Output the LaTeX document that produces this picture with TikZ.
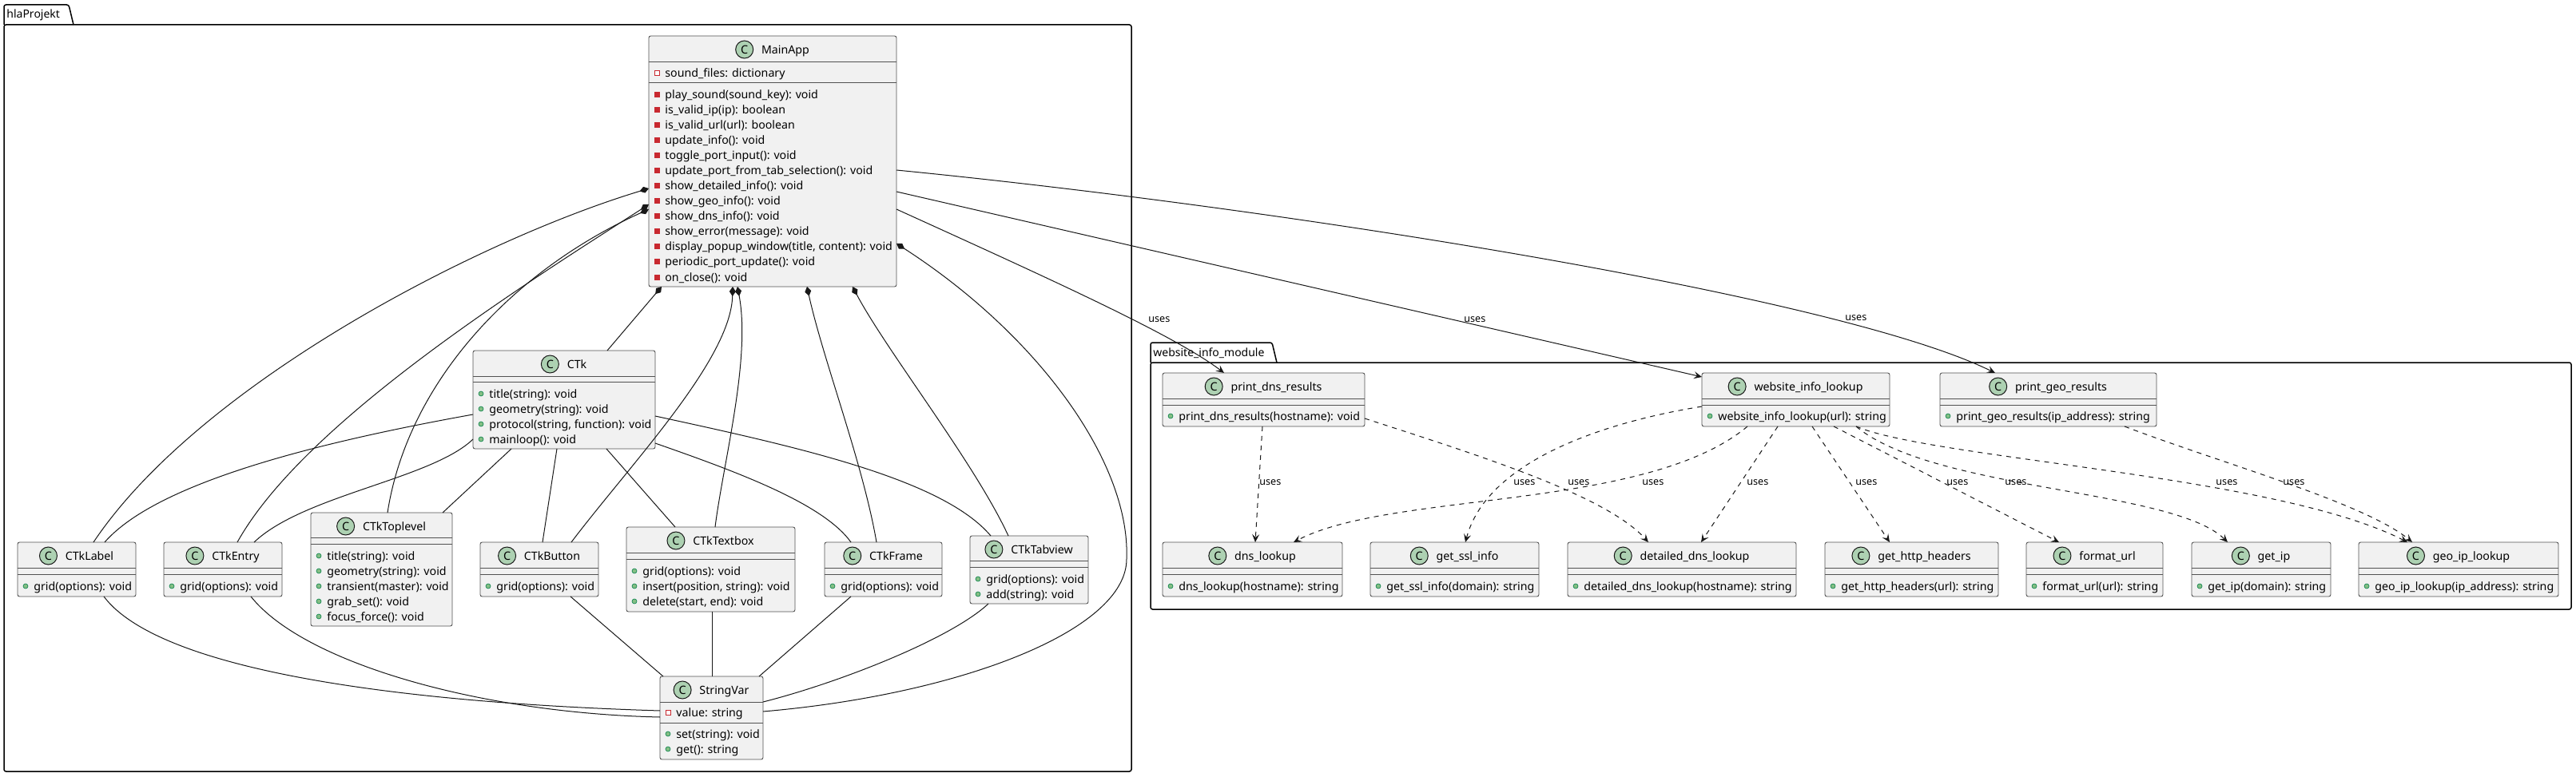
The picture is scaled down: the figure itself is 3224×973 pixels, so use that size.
\documentclass[tikz,border=0pt]{standalone}
\usepackage{fontspec}
\setmainfont{Noto Sans}
\usetikzlibrary{arrows.meta,calc}
\definecolor{boxfill}{HTML}{F1F1F1}
\definecolor{edge}{HTML}{181818}
\definecolor{cfill}{HTML}{ADD1B2}
\definecolor{pubfill}{HTML}{84BE84}
\definecolor{pubdraw}{HTML}{038048}
\definecolor{privred}{HTML}{C82930}
\tikzset{
 classbox/.style={draw=edge!75, line width=0.45pt, fill=boxfill, rounded corners=1.25pt, anchor=north west, inner sep=0pt, outer sep=0pt},
 titletext/.style={inner sep=0pt, font=\fontsize{7.1}{8.5}\selectfont, text height=0.72em, text depth=0.2em},
 cbadge/.style={circle, draw=edge, line width=0.5pt, fill=cfill, minimum size=11pt, inner sep=0pt, font=\fontsize{7.2}{8}\selectfont\bfseries},
 membertext/.style={anchor=west, inner sep=0pt, font=\fontsize{7.1}{8.5}\selectfont, text height=0.72em, text depth=0.2em},
 pubm/.style={circle, fill=pubfill, draw=pubdraw, line width=0.3pt, minimum size=3pt, inner sep=0pt},
 privm/.style={rectangle, fill=privred, draw=privred, line width=0.3pt, minimum size=3pt, inner sep=0pt},
 privf/.style={rectangle, fill=white, draw=privred, line width=0.4pt, minimum size=3pt, inner sep=0pt},
 divline/.style={draw=edge!75, line width=0.45pt},
 pkg/.style={draw=black, line width=0.75pt, rounded corners=1.25pt},
 pkgtext/.style={anchor=west, inner sep=0pt, font=\fontsize{7}{8}\selectfont\bfseries},
 compo/.style={draw=edge, line width=0.5pt, {Diamond[length=6pt,width=4pt]}-},
 assoc/.style={draw=edge, line width=0.5pt},
 uses/.style={draw=edge, line width=0.5pt, -{Stealth[length=5pt,width=4.5pt,inset=2pt]}},
 dep/.style={uses, dash pattern=on 3pt off 3pt},
 lbl/.style={anchor=west, inner sep=0pt, font=\fontsize{6.3}{7}\selectfont},
}
\newcommand\umlclass[8]{%
  \node[classbox, minimum width={(#4-#2)*0.5pt}, minimum height={(#5-#3)*0.5pt}] (#1) at (#2,#3) {};
  \node[titletext] (#1-t) at ({(#2+#4)/2+16},#3+17) {#6};
  \node[cbadge] (#1-c) at ([xshift=-10.5pt]#1-t.west) {C};
  \draw[divline] (#1.west |- 0,#7) -- (#1.east |- 0,#7);
  \draw[divline] (#1.west |- 0,#8) -- (#1.east |- 0,#8);
}
\newcommand\mrow[5]{%
  \node[#4] (#1-i) at (#2+10,#3) {};
  \node[membertext] (#1) at (#2+20,#3) {#5};
}
\begin{document}
\begin{tikzpicture}[x=0.5pt,y=-0.5pt]
\useasboundingbox (0,0) rectangle (3224,973);
\fill[white] (0,0) rectangle (3224,973);

% packages
\draw[pkg] (5,31) rectangle (1416,966);
\draw[pkg] (5,31) -- (5,6) -- (86,6) -- (92,31);
\node[pkgtext] (hlaProjekt-label) at (8,19) {hlaProjekt};
\draw[pkg] (1440,454) rectangle (3218,763);
\draw[pkg] (1440,454) -- (1440,429) -- (1592,429) -- (1598,454);
\node[pkgtext] (wim-label) at (1443,442) {website\_info\_module};

% MainApp
\umlclass{MainApp}{812}{45}{1122}{359}{MainApp}{77}{103}
\mrow{MainApp-a1}{812}{91}{privf}{sound\_files: dictionary}
\mrow{MainApp-m1}{812}{118}{privm}{play\_sound(sound\_key): void}
\mrow{MainApp-m2}{812}{137.07}{privm}{is\_valid\_ip(ip): boolean}
\mrow{MainApp-m3}{812}{156.14}{privm}{is\_valid\_url(url): boolean}
\mrow{MainApp-m4}{812}{175.21}{privm}{update\_info(): void}
\mrow{MainApp-m5}{812}{194.28}{privm}{toggle\_port\_input(): void}
\mrow{MainApp-m6}{812}{213.35}{privm}{update\_port\_from\_tab\_selection(): void}
\mrow{MainApp-m7}{812}{232.42}{privm}{show\_detailed\_info(): void}
\mrow{MainApp-m8}{812}{251.49}{privm}{show\_geo\_info(): void}
\mrow{MainApp-m9}{812}{270.56}{privm}{show\_dns\_info(): void}
\mrow{MainApp-m10}{812}{289.63}{privm}{show\_error(message): void}
\mrow{MainApp-m11}{812}{308.7}{privm}{display\_popup\_window(title, content): void}
\mrow{MainApp-m12}{812}{327.77}{privm}{periodic\_port\_update(): void}
\mrow{MainApp-m13}{812}{346.84}{privm}{on\_close(): void}

% CTk
\umlclass{CTk}{592}{439}{820}{562}{CTk}{471}{478}
\mrow{CTk-m1}{592}{493}{pubm}{title(string): void}
\mrow{CTk-m2}{592}{512}{pubm}{geometry(string): void}
\mrow{CTk-m3}{592}{531}{pubm}{protocol(string, function): void}
\mrow{CTk-m4}{592}{550}{pubm}{mainloop(): void}

\umlclass{CTkLabel}{22}{679}{170}{747}{CTkLabel}{711}{719}
\mrow{CTkLabel-m1}{22}{734}{pubm}{grid(options): void}
\umlclass{CTkEntry}{205}{679}{353}{747}{CTkEntry}{711}{719}
\mrow{CTkEntry-m1}{205}{734}{pubm}{grid(options): void}
\umlclass{CTkToplevel}{389}{642}{566}{784}{CTkToplevel}{673}{681}
\mrow{CTkToplevel-m1}{389}{696}{pubm}{title(string): void}
\mrow{CTkToplevel-m2}{389}{715}{pubm}{geometry(string): void}
\mrow{CTkToplevel-m3}{389}{734}{pubm}{transient(master): void}
\mrow{CTkToplevel-m4}{389}{753}{pubm}{grab\_set(): void}
\mrow{CTkToplevel-m5}{389}{772}{pubm}{focus\_force(): void}
\umlclass{CTkButton}{601}{679}{749}{747}{CTkButton}{711}{719}
\mrow{CTkButton-m1}{601}{734}{pubm}{grid(options): void}
\umlclass{CTkTextbox}{784}{660}{995}{766}{CTkTextbox}{692}{700}
\mrow{CTkTextbox-m1}{784}{715}{pubm}{grid(options): void}
\mrow{CTkTextbox-m2}{784}{734}{pubm}{insert(position, string): void}
\mrow{CTkTextbox-m3}{784}{753}{pubm}{delete(start, end): void}
\umlclass{CTkFrame}{1032}{679}{1179}{747}{CTkFrame}{711}{719}
\mrow{CTkFrame-m1}{1032}{734}{pubm}{grid(options): void}
\umlclass{CTkTabview}{1214}{671}{1362}{756}{CTkTabview}{702}{710}
\mrow{CTkTabview-m1}{1214}{725}{pubm}{grid(options): void}
\mrow{CTkTabview-m2}{1214}{744}{pubm}{add(string): void}
\umlclass{StringVar}{826}{847}{955}{951}{StringVar}{879}{905}
\mrow{StringVar-a1}{826}{892}{privf}{value: string}
\mrow{StringVar-m1}{826}{919}{pubm}{set(string): void}
\mrow{StringVar-m2}{826}{938}{pubm}{get(): string}

% website_info_module classes
\umlclass{print_dns_results}{1455}{467}{1708}{534}{print\_dns\_results}{499}{507}
\mrow{print_dns_results-m1}{1455}{521}{pubm}{print\_dns\_results(hostname): void}
\umlclass{website_info_lookup}{2130}{467}{2365}{534}{website\_info\_lookup}{499}{507}
\mrow{website_info_lookup-m1}{2130}{521}{pubm}{website\_info\_lookup(url): string}
\umlclass{print_geo_results}{2428}{467}{2699}{534}{print\_geo\_results}{499}{507}
\mrow{print_geo_results-m1}{2428}{521}{pubm}{print\_geo\_results(ip\_address): string}
\umlclass{dns_lookup}{1455}{679}{1680}{747}{dns\_lookup}{711}{719}
\mrow{dns_lookup-m1}{1455}{734}{pubm}{dns\_lookup(hostname): string}
\umlclass{get_ssl_info}{1715}{679}{1926}{747}{get\_ssl\_info}{711}{719}
\mrow{get_ssl_info-m1}{1715}{734}{pubm}{get\_ssl\_info(domain): string}
\umlclass{detailed_dns_lookup}{1962}{679}{2248}{747}{detailed\_dns\_lookup}{711}{719}
\mrow{detailed_dns_lookup-m1}{1962}{734}{pubm}{detailed\_dns\_lookup(hostname): string}
\umlclass{get_http_headers}{2284}{679}{2501}{747}{get\_http\_headers}{711}{719}
\mrow{get_http_headers-m1}{2284}{734}{pubm}{get\_http\_headers(url): string}
\umlclass{format_url}{2536}{679}{2707}{747}{format\_url}{711}{719}
\mrow{format_url-m1}{2536}{734}{pubm}{format\_url(url): string}
\umlclass{get_ip}{2743}{679}{2917}{747}{get\_ip}{711}{719}
\mrow{get_ip-m1}{2743}{734}{pubm}{get\_ip(domain): string}
\umlclass{geo_ip_lookup}{2952}{679}{3202}{747}{geo\_ip\_lookup}{711}{719}
\mrow{geo_ip_lookup-m1}{2952}{734}{pubm}{geo\_ip\_lookup(ip\_address): string}

% compositions from MainApp
\draw[compo] (MainApp.west |- 0,236) .. controls (600,300) and (250,480) .. (CTkLabel.north -| 117,0);
\draw[compo] (MainApp.west |- 0,256) .. controls (650,360) and (380,530) .. (CTkEntry.north -| 297,0);
\draw[compo] (MainApp.west |- 0,262) .. controls (640,340) and (510,480) .. (CTkToplevel.north -| 485,0);
\draw[compo] (MainApp.south -| 828,0) -- (CTk.north -| 760,0);
\draw[compo] (MainApp.south -| 917,0) .. controls (915,450) and (790,580) .. (CTkButton.north -| 715,0);
\draw[compo] (MainApp.south -| 923,0) .. controls (940,450) and (905,580) .. (CTkTextbox.north -| 895,0);
\draw[compo] (MainApp.south -| 1010,0) .. controls (1030,450) and (1080,580) .. (CTkFrame.north -| 1097,0);
\draw[compo] (MainApp.south -| 1067,0) .. controls (1110,440) and (1220,580) .. (CTkTabview.north -| 1262,0);
\draw[compo] (MainApp.east |- 0,305) .. controls (1300,420) and (1415,580) .. (1410,700) .. controls (1410,790) and (1200,870) .. (StringVar.east |- 0,891);

% CTk associations
\draw[assoc] (CTk.west |- 0,519) .. controls (420,550) and (200,600) .. (CTkLabel.north -| 131,0);
\draw[assoc] (CTk.west |- 0,550) .. controls (540,600) and (380,620) .. (CTkEntry.north -| 318,0);
\draw[assoc] (CTk.south -| 640,0) -- (CTkToplevel.north -| 554,0);
\draw[assoc] (CTk.south -| 697,0) -- (CTkButton.north -| 679,0);
\draw[assoc] (CTk.south -| 759,0) -- (CTkTextbox.north -| 845,0);
\draw[assoc] (CTk.east |- 0,555) .. controls (920,590) and (1030,630) .. (CTkFrame.north -| 1065,0);
\draw[assoc] (CTk.east |- 0,521) .. controls (1000,560) and (1180,600) .. (CTkTabview.north -| 1240,0);

% StringVar associations
\draw[assoc] (CTkLabel.south -| 130,0) .. controls (200,840) and (500,880) .. (StringVar.west |- 0,890);
\draw[assoc] (CTkEntry.south -| 314,0) .. controls (380,830) and (600,893) .. (StringVar.west |- 0,898);
\draw[assoc] (CTkButton.south -| 714,0) -- (StringVar.north -| 830,0);
\draw[assoc] (CTkTextbox.south -| 891,0) -- (StringVar.north -| 891,0);
\draw[assoc] (CTkFrame.south -| 1065,0) -- (StringVar.north -| 950,0);
\draw[assoc] (CTkTabview.south -| 1237,0) .. controls (1190,800) and (1050,855) .. (StringVar.east |- 0,879);

% MainApp uses module
\draw[uses] (MainApp.east |- 0,262) .. controls (1320,352) and (1470,420) .. (print_dns_results.north -| 1532,0);
\draw[uses] (MainApp.east |- 0,240) -- (website_info_lookup.west |- 0,472);
\draw[uses] (MainApp.east |- 0,213) .. controls (1600,260) and (2300,370) .. (print_geo_results.north -| 2497,0);
\node[lbl] (u1) at (1437,400) {uses};
\node[lbl] (u2) at (1832,400) {uses};
\node[lbl] (u3) at (2309,398) {uses};

% dependencies inside module
\draw[dep] (print_dns_results.south -| 1580,0) -- (dns_lookup.north -| 1571,0);
\draw[dep] (print_dns_results.east |- 0,524) .. controls (1850,570) and (2010,620) .. (detailed_dns_lookup.north -| 2063,0);
\draw[dep] (website_info_lookup.west |- 0,509) .. controls (2000,530) and (1860,580) .. (get_ssl_info.north -| 1834,0);
\draw[dep] (website_info_lookup.south -| 2187,0) .. controls (2060,640) and (1740,615) .. (dns_lookup.north -| 1619,0);
\draw[dep] (website_info_lookup.south -| 2225,0) -- (detailed_dns_lookup.north -| 2129,0);
\draw[dep] (website_info_lookup.south -| 2268,0) -- (get_http_headers.north -| 2365,0);
\draw[dep] (website_info_lookup.south -| 2295,0) -- (format_url.north -| 2577,0);
\draw[dep] (website_info_lookup.south -| 2323,0) .. controls (2420,615) and (2720,612) .. (get_ip.north -| 2788,0);
\draw[dep] (website_info_lookup.south -| 2323,0) .. controls (2420,575) and (2850,595) .. (geo_ip_lookup.north -| 3013,0);
\draw[dep] (print_geo_results.south -| 2659,0) .. controls (2780,580) and (2960,630) .. (geo_ip_lookup.north -| 3019,0);
\node[lbl] (d1) at (1576,604) {uses};
\node[lbl] (d2) at (1894,604) {uses};
\node[lbl] (d3) at (1962,604) {uses};
\node[lbl] (d4) at (2055,604) {uses};
\node[lbl] (d5) at (2186,604) {uses};
\node[lbl] (d6) at (2322,604) {uses};
\node[lbl] (d7) at (2436,604) {uses};
\node[lbl] (d8) at (2509,604) {uses};
\node[lbl] (d9) at (2773,604) {uses};
\node[lbl] (d10) at (2857,604) {uses};
\end{tikzpicture}
\end{document}
